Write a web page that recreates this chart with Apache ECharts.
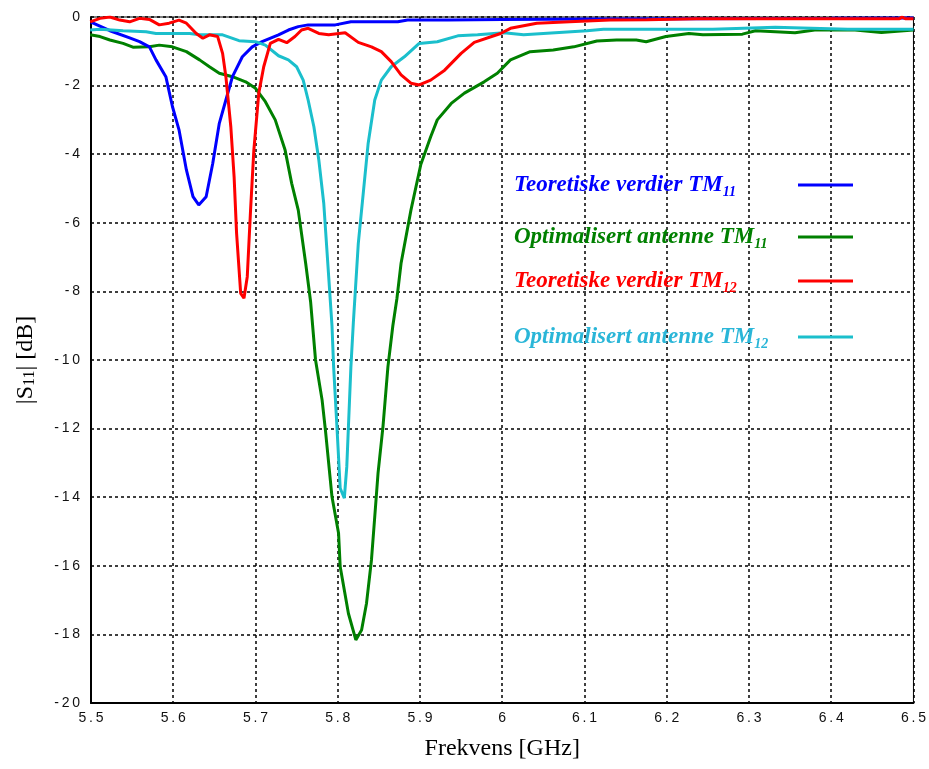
<!DOCTYPE html>
<html>
<head>
<meta charset="utf-8">
<script src="https://cdn.jsdelivr.net/npm/echarts@6/dist/echarts.min.js"></script>
<style>html,body{margin:0;padding:0;background:#fff;overflow:hidden}#c{width:929px;height:769px}</style>
</head>
<body>
<div id="c"></div>
<script>
// Frequency [GHz], |S11| [dB]
const theoryTM11 = [[5.500,-0.15],[5.523,-0.40],[5.547,-0.61],[5.559,-0.72],[5.571,-0.87],[5.579,-1.25],[5.591,-1.74],[5.599,-2.61],[5.607,-3.29],[5.616,-4.46],[5.624,-5.24],[5.631,-5.48],[5.640,-5.24],[5.648,-4.27],[5.656,-3.10],[5.664,-2.42],[5.672,-1.74],[5.684,-1.16],[5.696,-0.87],[5.708,-0.72],[5.728,-0.52],[5.740,-0.38],[5.752,-0.28],[5.764,-0.23],[5.797,-0.23],[5.816,-0.14],[5.873,-0.14],[5.885,-0.09],[5.934,-0.09],[6.000,-0.07],[6.115,-0.06],[6.235,-0.05],[6.400,-0.04],[6.500,-0.03]];
const optimTM11 = [[5.499,-0.52],[5.511,-0.57],[5.523,-0.67],[5.539,-0.77],[5.551,-0.88],[5.571,-0.87],[5.583,-0.82],[5.599,-0.87],[5.616,-1.01],[5.632,-1.25],[5.644,-1.45],[5.656,-1.64],[5.672,-1.74],[5.688,-1.89],[5.700,-2.08],[5.712,-2.47],[5.724,-3.00],[5.736,-3.88],[5.744,-4.85],[5.752,-5.63],[5.761,-7.18],[5.767,-8.30],[5.773,-10.0],[5.781,-11.17],[5.785,-12.04],[5.793,-13.99],[5.801,-15.05],[5.803,-16.03],[5.813,-17.39],[5.822,-18.16],[5.829,-17.87],[5.835,-17.09],[5.841,-15.83],[5.845,-14.57],[5.849,-13.30],[5.855,-11.94],[5.861,-10.20],[5.867,-9.00],[5.872,-8.20],[5.877,-7.18],[5.889,-5.63],[5.901,-4.30],[5.913,-3.49],[5.921,-3.00],[5.938,-2.52],[5.954,-2.22],[5.978,-1.89],[5.994,-1.64],[6.010,-1.25],[6.034,-1.01],[6.062,-0.96],[6.087,-0.87],[6.115,-0.70],[6.139,-0.67],[6.163,-0.67],[6.175,-0.72],[6.199,-0.57],[6.227,-0.48],[6.244,-0.52],[6.292,-0.50],[6.308,-0.40],[6.356,-0.46],[6.380,-0.38],[6.429,-0.38],[6.461,-0.45],[6.500,-0.38]];
const theoryTM12 = [[5.499,-0.14],[5.511,-0.04],[5.523,0.00],[5.535,-0.09],[5.547,-0.14],[5.559,-0.04],[5.571,-0.07],[5.583,-0.23],[5.595,-0.18],[5.607,-0.09],[5.616,-0.18],[5.628,-0.48],[5.636,-0.62],[5.644,-0.52],[5.654,-0.57],[5.660,-1.06],[5.664,-1.74],[5.670,-3.20],[5.674,-4.66],[5.677,-6.30],[5.682,-8.06],[5.686,-8.20],[5.690,-7.57],[5.694,-5.63],[5.698,-3.88],[5.704,-2.22],[5.710,-1.45],[5.718,-0.77],[5.728,-0.65],[5.738,-0.75],[5.748,-0.57],[5.756,-0.38],[5.764,-0.33],[5.777,-0.48],[5.789,-0.52],[5.809,-0.46],[5.825,-0.74],[5.841,-0.87],[5.853,-1.01],[5.865,-1.30],[5.877,-1.69],[5.889,-1.93],[5.899,-1.98],[5.913,-1.84],[5.930,-1.55],[5.950,-1.06],[5.966,-0.74],[5.998,-0.48],[6.010,-0.33],[6.042,-0.18],[6.082,-0.14],[6.131,-0.09],[6.176,-0.08],[6.236,-0.05],[6.441,-0.05],[6.443,0.00],[6.448,-0.05],[6.483,-0.05],[6.486,0.00],[6.490,-0.05],[6.500,-0.05]];
const optimTM12 = [[5.499,-0.38],[5.511,-0.36],[5.539,-0.40],[5.567,-0.43],[5.579,-0.48],[5.620,-0.48],[5.632,-0.52],[5.660,-0.52],[5.680,-0.69],[5.700,-0.72],[5.712,-0.82],[5.728,-1.13],[5.740,-1.25],[5.750,-1.45],[5.758,-1.84],[5.764,-2.42],[5.771,-3.20],[5.777,-4.17],[5.783,-5.43],[5.789,-7.57],[5.793,-9.00],[5.795,-10.20],[5.799,-11.94],[5.803,-13.74],[5.808,-14.03],[5.811,-13.11],[5.813,-11.94],[5.816,-10.20],[5.819,-8.90],[5.825,-6.60],[5.831,-5.14],[5.837,-3.68],[5.845,-2.42],[5.853,-1.84],[5.865,-1.45],[5.881,-1.16],[5.899,-0.77],[5.921,-0.72],[5.946,-0.55],[5.970,-0.52],[6.002,-0.46],[6.026,-0.52],[6.050,-0.48],[6.103,-0.40],[6.123,-0.36],[6.163,-0.36],[6.256,-0.36],[6.332,-0.30],[6.420,-0.36],[6.500,-0.36]];

const seriesNames = ['Teoretiske verdier TM', 'Optimalisert antenne TM', 'Teoretiske verdier TM', 'Optimalisert antenne TM'];
const seriesSubs = ['11', '11', '12', '12'];
const seriesColors = ['#0000ff', '#008000', '#ff0000', '#1bbfcc'];
const legendTextColors = ['#0000ff', '#008000', '#ff0000', '#2ab6d8'];
const seriesData = [theoryTM11, optimTM11, theoryTM12, optimTM12];

const spaced = s => s.split('').join('\u2009');
const chart = echarts.init(document.getElementById('c'));

const legendY = [185, 237, 281, 337];
const graphics = [];
seriesNames.forEach((n, i) => {
  graphics.push({
    type: 'text', left: 514, top: legendY[i] - 11, z: 100,
    style: {
      text: '{m|' + n + '}{s|' + seriesSubs[i] + '}',
      fill: legendTextColors[i],
      rich: {
        m: { fontFamily: 'Liberation Serif', fontStyle: 'italic', fontWeight: 'bold', fontSize: 23, lineHeight: 28, fill: legendTextColors[i], color: legendTextColors[i] },
        s: { fontFamily: 'Liberation Serif', fontStyle: 'italic', fontWeight: 'bold', fontSize: 14, lineHeight: 15, verticalAlign: 'bottom', fill: legendTextColors[i], color: legendTextColors[i] }
      }
    }
  });
  graphics.push({
    type: 'line', z: 100,
    shape: { x1: 798, y1: legendY[i], x2: 853, y2: legendY[i] },
    style: { stroke: seriesColors[i], lineWidth: 3 }
  });
});

const order = [1, 0, 3, 2];
chart.setOption({
  animation: false,
  backgroundColor: '#fff',
  grid: { left: 91, right: 10, top: 17, bottom: 66, show: true, borderColor: '#000', borderWidth: 1, containLabel: false },
  xAxis: {
    type: 'value', min: 5.5, max: 6.5, interval: 0.1,
    name: 'Frekvens [GHz]', nameLocation: 'middle', nameGap: 34,
    nameTextStyle: { fontFamily: 'Liberation Serif', fontSize: 24, color: '#000' },
    axisLine: { show: true, onZero: false, lineStyle: { color: '#000', width: 2 } },
    axisTick: { show: false },
    axisLabel: { margin: 8, color: '#111', fontFamily: 'Liberation Sans', fontSize: 14,
      formatter: v => spaced(String(Number(v.toFixed(1)))) },
    splitLine: { show: true, lineStyle: { color: '#000', type: [3, 3], width: 1.5 } }
  },
  yAxis: {
    type: 'value', min: -20, max: 0, interval: 2,
    name: '|S{s|11}| [dB]', nameLocation: 'middle', nameGap: 53, nameRotate: 90,
    nameTextStyle: { fontFamily: 'Liberation Serif', fontSize: 24, color: '#000',
      rich: { s: { fontFamily: 'Liberation Serif', fontSize: 16, lineHeight: 17, verticalAlign: 'bottom', color: '#000' } } },
    axisLine: { show: true, onZero: false, lineStyle: { color: '#000', width: 2 } },
    axisTick: { show: false },
    axisLabel: { margin: 11, color: '#111', fontFamily: 'Liberation Sans', fontSize: 14,
      formatter: v => spaced(String(Math.round(v))) },
    splitLine: { show: true, lineStyle: { color: '#000', type: [3, 3], width: 1.5 } }
  },
  series: order.map(i => ({
    name: seriesNames[i] + seriesSubs[i],
    type: 'line', data: seriesData[i], showSymbol: false, symbol: 'none',
    lineStyle: { color: seriesColors[i], width: 3 }, itemStyle: { color: seriesColors[i] },
    z: 3, clip: true
  })),
  graphic: graphics
});
</script>
</body>
</html>
